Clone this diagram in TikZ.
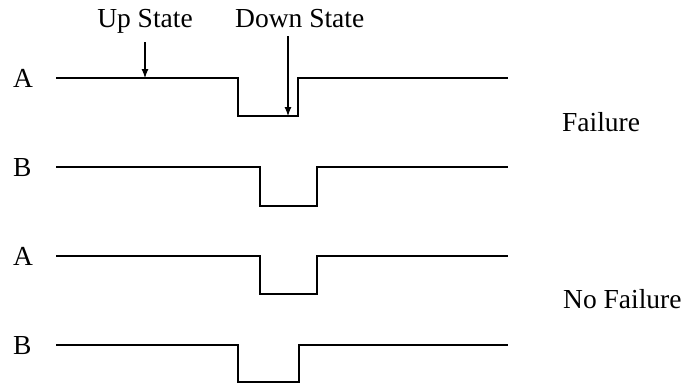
\documentclass[tikz,border=0pt]{standalone}
\usepackage{fontspec}
\setmainfont{Liberation Serif}
\usetikzlibrary{arrows.meta, math}

\begin{document}
\begin{tikzpicture}[x=1pt,y=-1pt]
\useasboundingbox (0,0) rectangle (686,383);
\tikzset{
sig/.style={line width=1.3pt},
lbl/.style={font=\fontsize{27.5}{31}\selectfont, inner sep=0pt, anchor=base west},
pointer/.style={-{Latex[length=9pt,width=7pt]}, line width=1.1pt, shorten <=9pt}
}

\tikzmath{
\xs = 56;%signal start
\xe = 508;%signal end
}

% signals: line / drop / rise / bottom / name
\foreach \y/\a/\b/\d/\n [count=\k] in {78/238/298/116/A, 167/260/317/206/B, 256/260/317/294/A, 345/238/299/382/B}{
\node[lbl] (sig\k) at (13,\y+9) {\n};
\draw[sig] (\xs,\y) -- (\a,\y) -- (\a,\d) -- (\b,\d) -- (\b,\y) -- (\xe,\y);
}

\node[lbl, anchor=base] (up) at (145,27) {Up State};
\node[lbl] (down) at (235,27) {Down State};
\coordinate (uptip) at (145,78);
\coordinate (downtip) at (288,116);
\draw[pointer] (up.south) -- (uptip);
\draw[pointer] (down.south -| downtip) -- (downtip);

\node[lbl] (fail) at (562,131) {Failure};
\node[lbl] (nofail) at (563,308) {No Failure};

\end{tikzpicture}
\end{document}
